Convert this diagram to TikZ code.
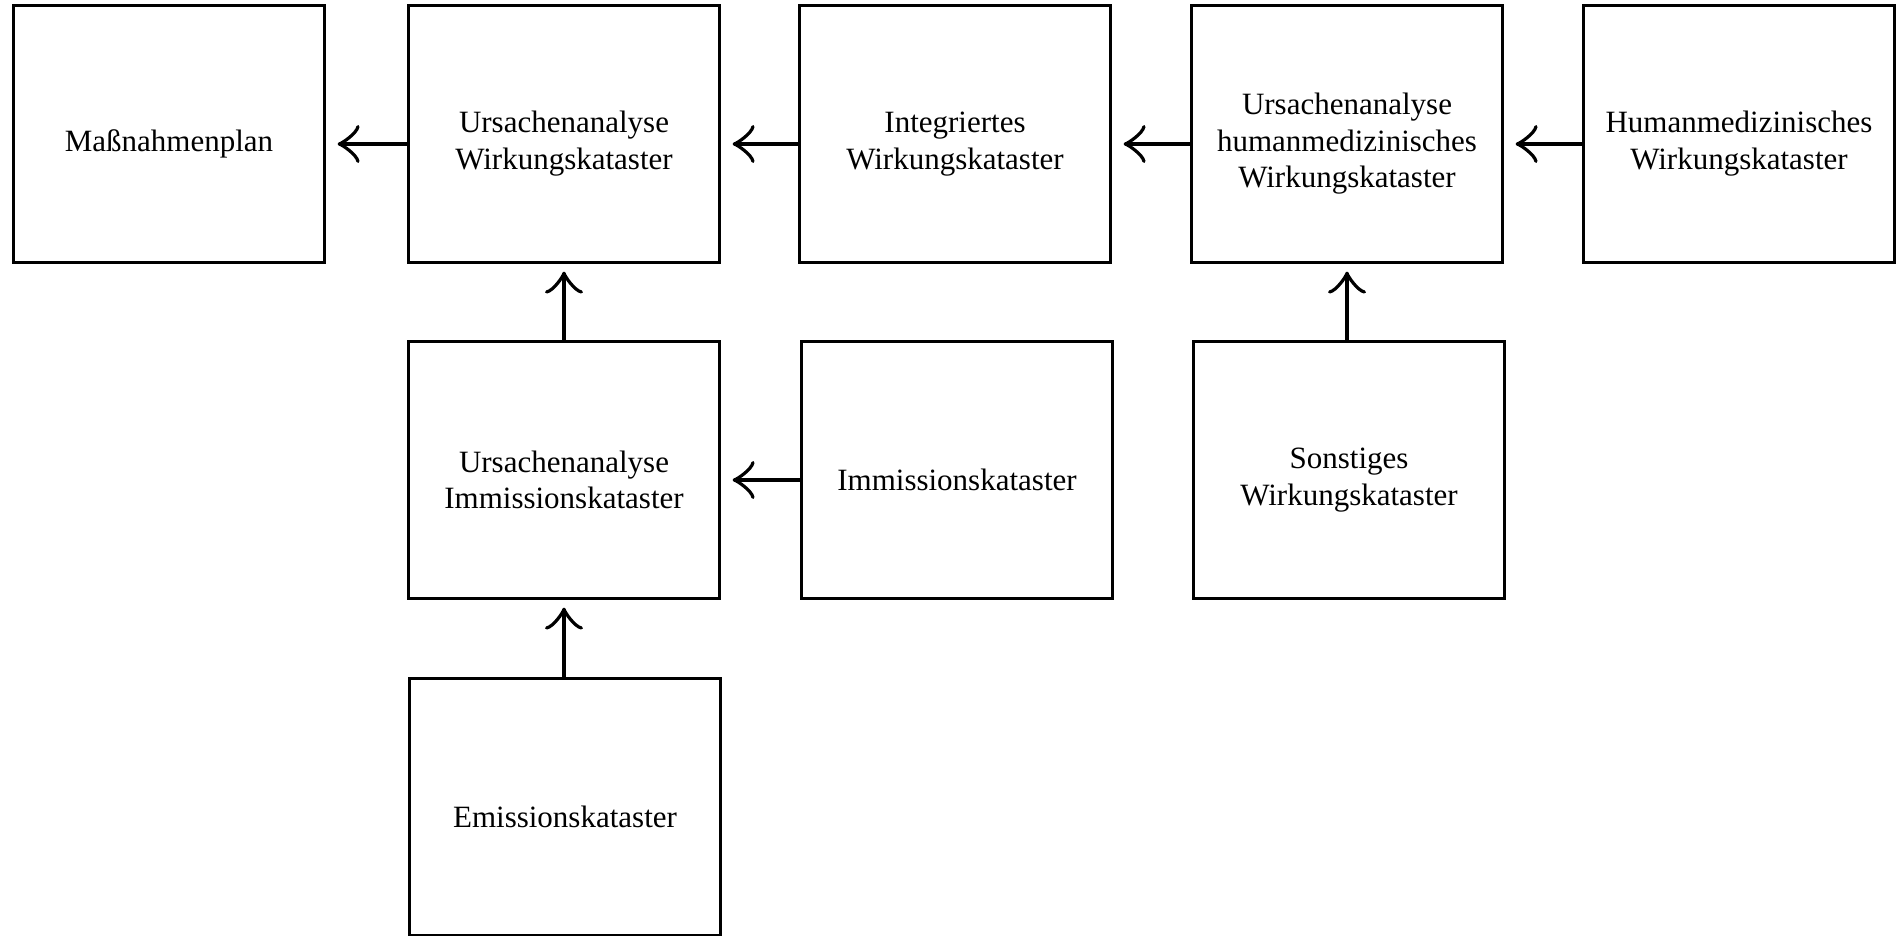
\documentclass[tikz,border=0pt]{standalone}
\usepackage{fontspec}
\setmainfont{Liberation Serif}
\usetikzlibrary{arrows.meta}
\newcommand{\kstrut}{\rule{0pt}{20.5pt}}

\begin{document}
\begin{tikzpicture}[x=0.5pt, y=-0.5pt,
    kbox/.style={draw, line width=1.1pt, minimum width=155.5pt, minimum height=128.5pt,
      align=center, inner sep=2pt, font=\fontsize{15.5pt}{18.2pt}\selectfont},
    pfeil/.style={line width=2pt, -{Classical TikZ Rightarrow[length=11pt,width=19pt]}}]
  \useasboundingbox (0,0) rectangle (1896,936);

  % Top row
  \node[kbox] (plan) at (169,134) {\kstrut Maßnahmenplan};
  \node[kbox] (uwk) at (564,134) {\kstrut Ursachenanalyse\\Wirkungskataster};
  \node[kbox] (iwk) at (955,134) {\kstrut Integriertes\\Wirkungskataster};
  \node[kbox] (uhwk) at (1347,134) {\kstrut Ursachenanalyse\\humanmedizinisches\\Wirkungskataster};
  \node[kbox] (hwk) at (1739,134) {\kstrut Humanmedizinisches\\Wirkungskataster};

  % Middle row
  \node[kbox] (uik) at (564,470) {\kstrut Ursachenanalyse\\Immissionskataster};
  \node[kbox] (ik) at (957,470) {\kstrut Immissionskataster};
  \node[kbox] (swk) at (1349,470) {\kstrut Sonstiges\\Wirkungskataster};

  % Bottom row
  \node[kbox] (ek) at (565,807) {\kstrut Emissionskataster};

  % Arrows
  \draw[pfeil, shorten >=6pt] ([yshift=-5pt]uwk.west) -- ([yshift=-5pt]plan.east);
  \draw[pfeil, shorten >=6pt] ([yshift=-5pt]iwk.west) -- ([yshift=-5pt]uwk.east);
  \draw[pfeil, shorten >=6pt] ([yshift=-5pt]uhwk.west) -- ([yshift=-5pt]iwk.east);
  \draw[pfeil, shorten >=6pt] ([yshift=-5pt]hwk.west) -- ([yshift=-5pt]uhwk.east);
  \draw[pfeil, shorten >=6pt] ([yshift=-5pt]ik.west) -- ([yshift=-5pt]uik.east);
  \draw[pfeil, shorten >=4pt] (uik.north) -- (uwk.south);
  \draw[pfeil, shorten >=4pt] (uhwk.south |- swk.north) -- (uhwk.south);
  \draw[pfeil, shorten >=4pt] (uik.south |- ek.north) -- (uik.south);
\end{tikzpicture}
\end{document}
